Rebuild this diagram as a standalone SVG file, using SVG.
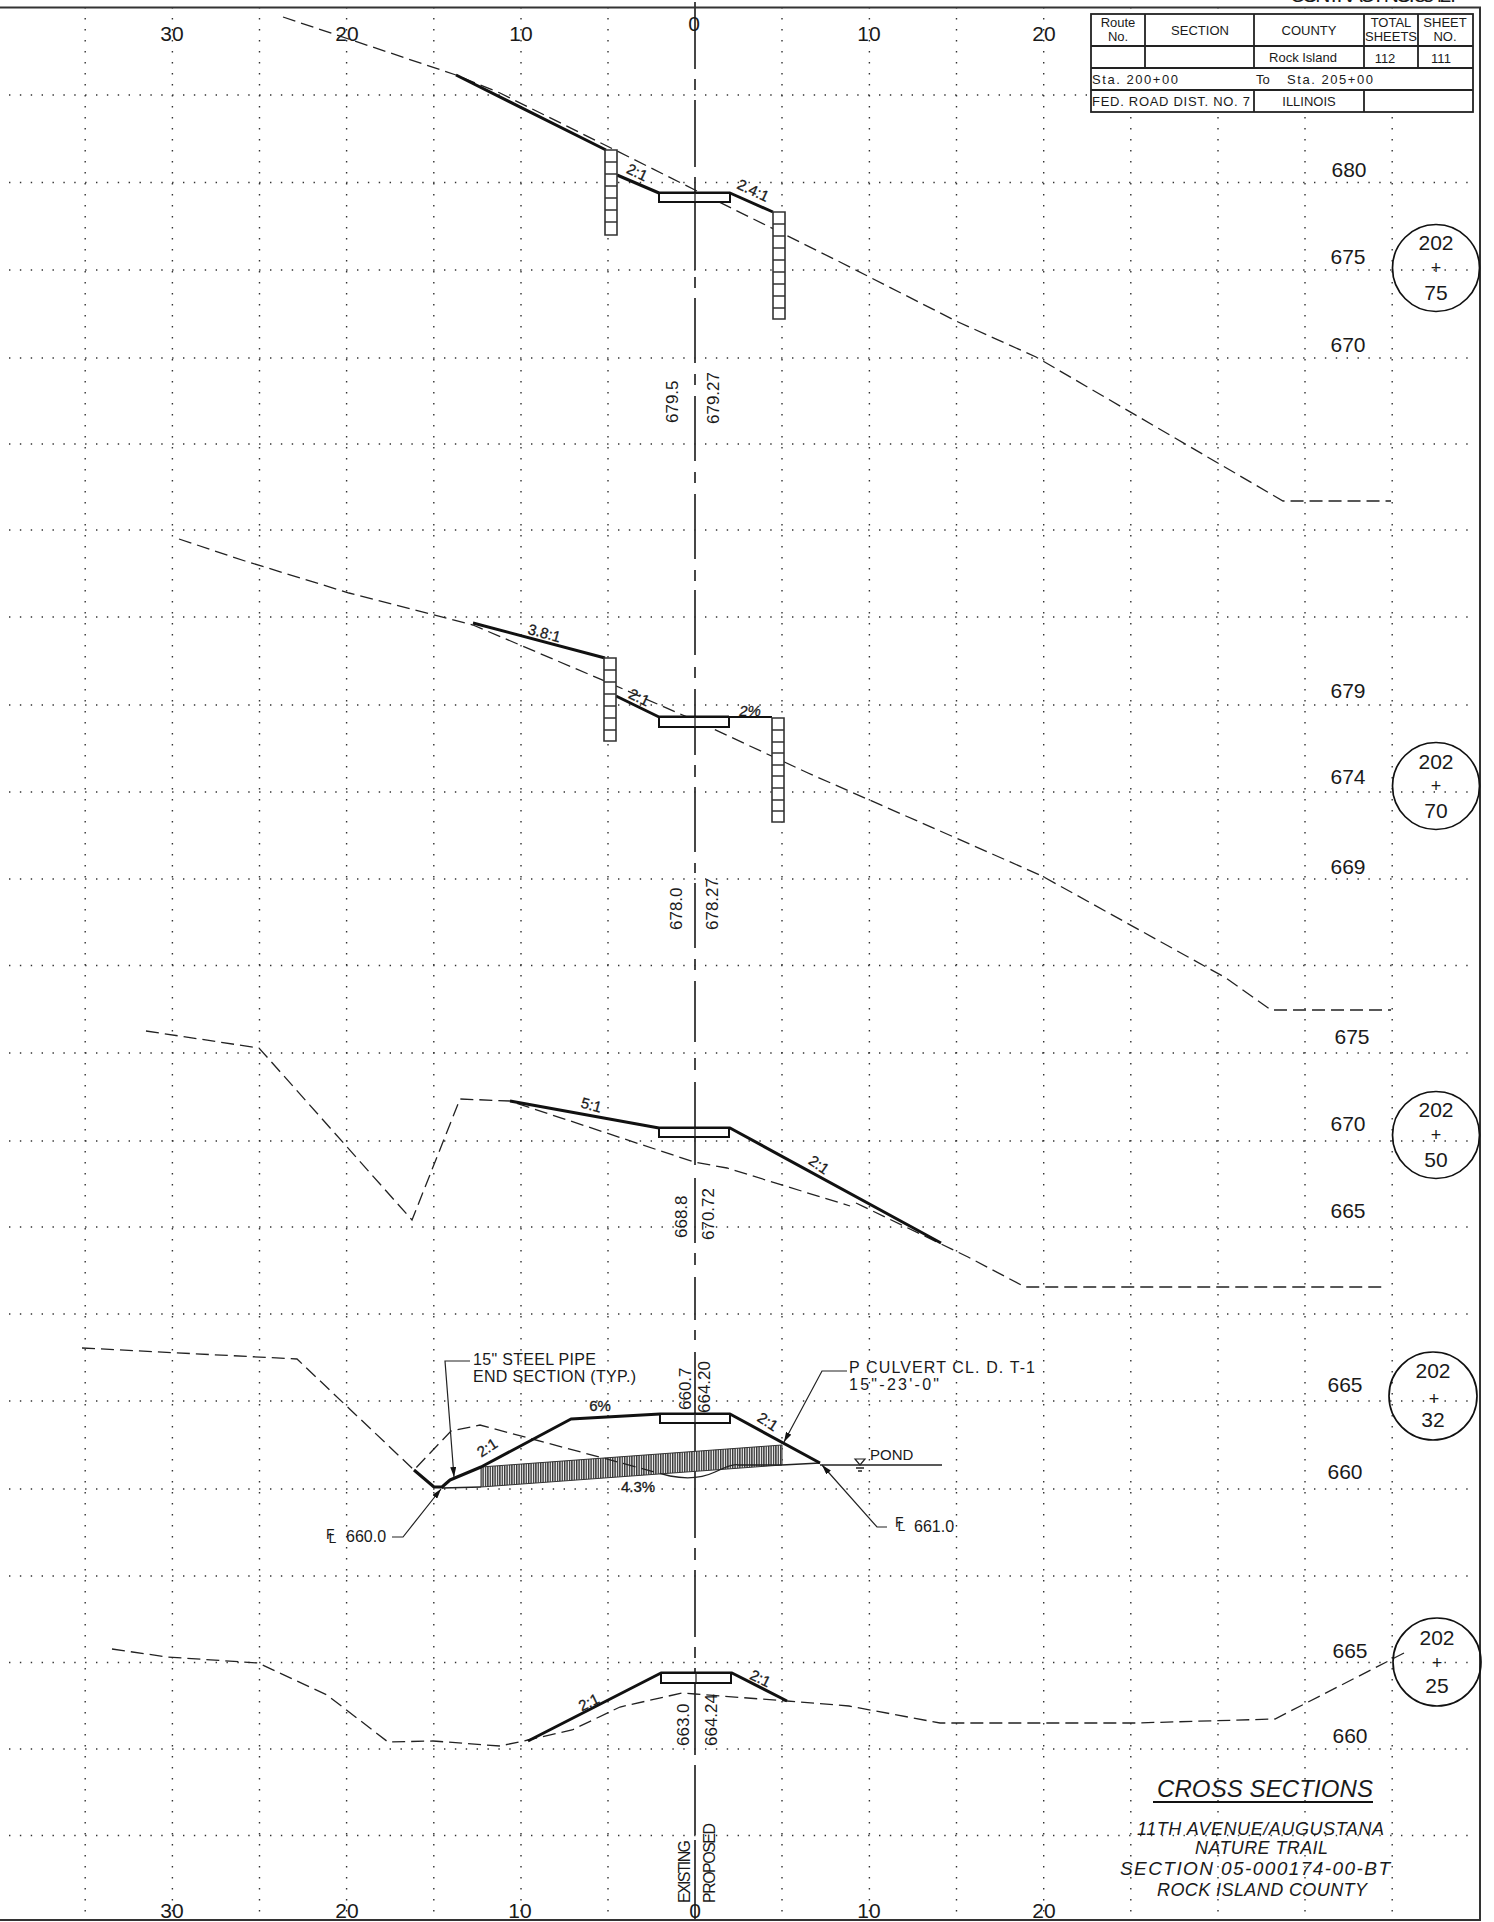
<svg xmlns="http://www.w3.org/2000/svg" width="1494" height="1922" viewBox="0 0 1494 1922">
<style>
text{font-family:"Liberation Sans",Arial,sans-serif;fill:#1a1a1a}
.gh,.gv,.ex,.th,.tn,.cl,.ld{fill:none}
.gh{stroke:#333;stroke-width:1.4;stroke-dasharray:1.4 9.475}
.gv{stroke:#333;stroke-width:1.4;stroke-dasharray:1.4 9.6}
.cl{stroke:#333;stroke-width:1.8}
.ex{stroke:#222;stroke-width:1.3;stroke-dasharray:13 6}
.th{stroke:#111;stroke-width:3;stroke-linejoin:round}
.tn{stroke:#222;stroke-width:1.3}
.ld{stroke:#222;stroke-width:1.2}
.road{fill:#fff;stroke:#111;stroke-width:2}
.wall{fill:#fff;stroke:#333;stroke-width:1.6}
.bub{fill:none;stroke:#111;stroke-width:1.7}
.frm{fill:none;stroke:#333;stroke-width:2}
.sc{font-size:21px;text-anchor:middle}
.el{font-size:21px;text-anchor:middle}
.pl{font-size:18px;text-anchor:middle}
.sl{font-size:15px;text-anchor:middle;stroke:#1a1a1a;stroke-width:.3}
.v{font-size:17px}
.t{font-size:13px;text-anchor:middle}
.tl{font-size:13px}
.lb{font-size:16px}
.fl{font-size:14px}
.ttl{font-style:italic}
.tb{fill:#fff;stroke:#222;stroke-width:1.8}
</style>
<defs>
<pattern id="hatch" width="2.4" height="8" patternUnits="userSpaceOnUse"><rect width="2.4" height="8" fill="#fff"/><rect width="1.4" height="8" fill="#333"/></pattern>
<marker id="arr" viewBox="0 0 10 6" refX="10" refY="3" markerWidth="10" markerHeight="6" markerUnits="userSpaceOnUse" orient="auto"><path d="M0 0L10 3L0 6z" fill="#111"/></marker>
</defs>
<rect width="1494" height="1922" fill="#fff"/>

<g id="grid">
<path class="gh" d="M9 95H1470M9 182.5H1470M9 270H1470M9 358H1470M9 444H1470M9 530H1470M9 617H1470M9 705H1470M9 792H1470M9 879H1470M9 965.5H1470M9 1053H1470M9 1141H1470M9 1227H1470M9 1314H1470M9 1401H1470M9 1489H1470M9 1576H1470M9 1662.5H1470M9 1749H1470M9 1835.5H1470"/>
<path class="gv" d="M85.2 7V1920M172.4 7V1920M259.5 7V1920M346.6 7V1920M433.8 7V1920M521 7V1920M608 7V1920M782 7V1920M869.4 7V1920M956.5 7V1920M1043.7 7V1920M1130.8 7V1920M1218 7V1920M1305 7V1920M1392.2 7V1920"/>
<path class="cl" d="M695 2V69M695 79V90M695 100V167M695 177V270M695 277V288M695 298V363M695 374V385M695 396V461M695 472V483M695 494V559M695 570V581M695 590V655M695 667V678M695 689V755M695 765V777M695 787V852M695 863V873M695 883V948M695 959V970M695 981V1042M695 1058V1070M695 1082V1165M695 1178V1243M695 1253V1265M695 1277V1320M695 1330V1340M695 1352V1538M695 1548V1560M695 1570V1637M695 1647V1658M695 1668V1755M695 1765V1835M695 1840V1920"/>
</g>

<g id="frame">
<path class="frm" d="M0 7.5H1480V1920H0"/>
<text x="1290" y="2" font-size="21" textLength="170" lengthAdjust="spacing">CONTRACT NO. 85427</text>
</g>

<g id="scale-top">
<text class="sc" x="172" y="41">30</text><text class="sc" x="347" y="41">20</text><text class="sc" x="521" y="41">10</text><text class="sc" x="694" y="31">0</text><text class="sc" x="869" y="41">10</text><text class="sc" x="1044" y="41">20</text>
</g>
<g id="scale-bottom">
<text class="sc" x="172" y="1918">30</text><text class="sc" x="347" y="1918">20</text><text class="sc" x="520" y="1918">10</text><text class="sc" x="695" y="1918">0</text><text class="sc" x="869" y="1918">10</text><text class="sc" x="1044" y="1918">20</text>
</g>

<g id="section-202-75">
<path class="ex" d="M283 17L456 75L500 93L617 151L695 190L840 262L956 321L1036 357L1283 501H1391"/>
<path class="th" d="M456 75L606 150M617 175L659 193H730L773 212"/>
<path class="road" d="M659 193H730V202H659z"/>
<path class="tn" d="M695 193V202"/>
<path class="wall" d="M605 150h12v85h-12zM605 162h12M605 174h12M605 186h12M605 198h12M605 210h12M605 222h12"/>
<path class="wall" d="M773 212h12v107h-12zM773 224h12M773 236h12M773 248h12M773 260h12M773 272h12M773 284h12M773 296h12M773 308h12"/>
<text class="sl" transform="translate(635 177) rotate(25)">2:1</text>
<text class="sl" transform="translate(751 195) rotate(25)">2.4:1</text>
<text class="v" transform="translate(678 423) rotate(-90)">679.5</text>
<text class="v" transform="translate(719 424) rotate(-90)">679.27</text>
<text class="el" x="1349" y="177">680</text><text class="el" x="1348" y="264">675</text><text class="el" x="1348" y="352">670</text>
<g id="bubble-75"><circle class="bub" cx="1436" cy="268" r="43.5"/><text class="el" x="1436" y="250">202</text><text class="pl" x="1436" y="274">+</text><text class="el" x="1436" y="300">75</text></g>
</g>

<g id="section-202-70">
<path class="ex" d="M179 539L245 561L349 593L473 625L607 682L694 720L808 773L956 838L1042 876L1226 978L1271 1010H1391"/>
<path class="th" d="M473 623L605 658M616 696L659 717H729"/>
<path class="road" d="M659 717H729V727H659z"/>
<path class="tn" d="M695 717V727"/>
<path d="M729 717H772" fill="none" stroke="#111" stroke-width="2.2"/>
<path class="wall" d="M604 658h12v83h-12zM604 670h12M604 682h12M604 694h12M604 706h12M604 718h12M604 730h12"/>
<path class="wall" d="M772 718h12v104h-12zM772 730h12M772 742h12M772 753h12M772 765h12M772 776h12M772 788h12M772 800h12M772 811h12"/>
<text class="sl" transform="translate(543 638) rotate(15)">3.8:1</text>
<text class="sl" transform="translate(637 702) rotate(25)">2:1</text>
<text class="sl" x="750" y="716" font-style="italic">2%</text>
<text class="v" transform="translate(682 930) rotate(-90)">678.0</text>
<text class="v" transform="translate(718 930) rotate(-90)">678.27</text>
<text class="el" x="1348" y="698">679</text><text class="el" x="1348" y="784">674</text><text class="el" x="1348" y="874">669</text>
<g id="bubble-70"><circle class="bub" cx="1436" cy="786" r="43.5"/><text class="el" x="1436" y="769">202</text><text class="pl" x="1436" y="792">+</text><text class="el" x="1436" y="818">70</text></g>
</g>

<g id="section-202-50">
<path class="ex" d="M146 1031L259 1048L412 1220L460 1099L510 1101L694 1162L727 1168L850 1206M856 1203L968 1257L1025 1287H1387"/>
<path class="th" d="M510 1101L659 1128H730L941 1243"/>
<path class="road" d="M659 1128H729V1137H659z"/>
<path class="tn" d="M695 1128V1137"/>
<text class="sl" transform="translate(590 1110) rotate(15)">5:1</text>
<text class="sl" transform="translate(816 1169) rotate(35)">2:1</text>
<text class="v" transform="translate(687 1238) rotate(-90)">668.8</text>
<text class="v" transform="translate(714 1240) rotate(-90)">670.72</text>
<text class="el" x="1352" y="1044">675</text><text class="el" x="1348" y="1131">670</text><text class="el" x="1348" y="1218">665</text>
<g id="bubble-50"><circle class="bub" cx="1436" cy="1135" r="43.5"/><text class="el" x="1436" y="1117">202</text><text class="pl" x="1436" y="1141">+</text><text class="el" x="1436" y="1167">50</text></g>
</g>

<g id="section-202-32">
<path d="M481 1467L782 1445V1465L481 1487z" fill="url(#hatch)" stroke="#333" stroke-width="1"/>
<path class="ex" d="M82 1348L297 1359L414 1470L451 1431L480 1425L603 1458L658 1473L670 1476"/>
<path class="tn" d="M670 1476Q696 1481 715 1472T738 1465H782"/>
<path class="tn" d="M442 1488L481 1487M782 1465L820 1463"/>
<path class="th" d="M414 1470L434 1487H442L450 1480L481 1467L571 1419L660 1414H730L820 1463"/>
<path class="road" d="M660 1414H730V1423H660z"/>
<path class="tn" d="M695 1414V1423"/>
<path class="tn" d="M820 1465H942"/>
<path d="M855 1459H865L860 1465z" fill="none" stroke="#222" stroke-width="1.2"/><path class="tn" d="M856 1468H864M858 1471H862"/>
<text x="870" y="1460" style="font-size:15px">POND</text>
<path class="ld" d="M470 1361H445L454 1477" marker-end="url(#arr)"/>
<path class="ld" d="M847 1371H822L784 1442" marker-end="url(#arr)"/>
<path class="ld" d="M392 1537H403L441 1489" marker-end="url(#arr)"/>
<path class="ld" d="M887 1527H877L822 1465" marker-end="url(#arr)"/>
<text class="lb" x="473" y="1365" textLength="123" lengthAdjust="spacing">15" STEEL PIPE</text>
<text class="lb" x="473" y="1382" textLength="163" lengthAdjust="spacing">END SECTION (TYP.)</text>
<text class="lb" x="849" y="1373" textLength="186" lengthAdjust="spacing">P CULVERT CL. D. T-1</text>
<text class="lb" x="849" y="1390" textLength="90" lengthAdjust="spacing">15"-23'-0"</text>
<text class="fl" x="326" y="1539">F<tspan dx="-6" dy="4">L</tspan></text>
<text class="lb" x="346" y="1542">660.0</text>
<text class="fl" x="895" y="1527">F<tspan dx="-6" dy="4">L</tspan></text>
<text class="lb" x="914" y="1532">661.0</text>
<text class="sl" x="600" y="1411">6%</text>
<text class="sl" x="638" y="1492">4.3%</text>
<text class="sl" transform="translate(490 1452) rotate(-33)">2:1</text>
<text class="sl" transform="translate(765 1426) rotate(33)">2:1</text>
<text class="v" transform="translate(691 1410) rotate(-90)">660.7</text>
<text class="v" transform="translate(710 1413) rotate(-90)">664.20</text>
<text class="el" x="1345" y="1392">665</text><text class="el" x="1345" y="1479">660</text>
<g id="bubble-32"><circle class="bub" cx="1433" cy="1396" r="44"/><text class="el" x="1433" y="1378">202</text><text class="pl" x="1434" y="1405">+</text><text class="el" x="1433" y="1427">32</text></g>
</g>

<g id="section-202-25">
<path class="ex" d="M112 1649L167 1657L258 1663L327 1695L388 1742L433 1741L500 1746L528 1740L572 1730L620 1707L682 1693L695 1694L787 1701L849 1706L940 1723H1136L1275 1719L1404 1653"/>
<path class="th" d="M528 1741L661 1673H732L787 1701"/>
<path class="road" d="M661 1673H731V1683H661z"/>
<path class="tn" d="M696 1673V1683"/>
<text class="sl" transform="translate(591 1707) rotate(-26)">2:1</text>
<text class="sl" transform="translate(758 1683) rotate(26)">2:1</text>
<text class="v" transform="translate(689 1746) rotate(-90)">663.0</text>
<text class="v" transform="translate(717 1746) rotate(-90)">664.24</text>
<text class="lb" transform="translate(690 1903) rotate(-90)" textLength="63" lengthAdjust="spacing">EXISTING</text>
<text class="lb" transform="translate(715 1903) rotate(-90)" textLength="80" lengthAdjust="spacing">PROPOSED</text>
<text class="el" x="1350" y="1658">665</text><text class="el" x="1350" y="1743">660</text>
<g id="bubble-25"><circle class="bub" cx="1437" cy="1662" r="44"/><text class="el" x="1437" y="1645">202</text><text class="pl" x="1437" y="1669">+</text><text class="el" x="1437" y="1693">25</text></g>
</g>

<g id="title-block">
<text class="ttl" x="1157" y="1797" font-size="24" textLength="216" lengthAdjust="spacing">CROSS SECTIONS</text>
<path d="M1153 1802H1373" fill="none" stroke="#111" stroke-width="2"/>
<text class="ttl" x="1137" y="1835" font-size="18" textLength="247" lengthAdjust="spacing">11TH AVENUE/AUGUSTANA</text>
<text class="ttl" x="1195" y="1854" font-size="18" textLength="133" lengthAdjust="spacing">NATURE TRAIL</text>
<text class="ttl" x="1120" y="1875" font-size="19" textLength="270" lengthAdjust="spacing">SECTION 05-000174-00-BT</text>
<text class="ttl" x="1157" y="1896" font-size="18" textLength="210" lengthAdjust="spacing">ROCK ISLAND COUNTY</text>
</g>

<g id="sheet-table">
<rect class="tb" x="1091" y="14" width="382" height="98"/>
<path class="tb" style="fill:none" d="M1091 46H1473M1091 68H1473M1091 90H1473M1145 14V68M1254 14V68M1364 14V68M1418 14V68M1254 90V112M1364 90V112"/>
<text class="t" x="1118" y="27">Route</text><text class="t" x="1118" y="41">No.</text>
<text class="t" x="1200" y="35">SECTION</text>
<text class="t" x="1309" y="35">COUNTY</text>
<text class="t" x="1391" y="27">TOTAL</text><text class="t" x="1391" y="41">SHEETS</text>
<text class="t" x="1445" y="27">SHEET</text><text class="t" x="1445" y="41">NO.</text>
<text class="t" x="1303" y="62">Rock Island</text>
<text class="t" x="1385" y="63">112</text><text class="t" x="1441" y="63">111</text>
<text class="tl" x="1092" y="84" textLength="86" lengthAdjust="spacing">Sta. 200+00</text>
<text class="tl" x="1256" y="84">To</text>
<text class="tl" x="1287" y="84" textLength="86" lengthAdjust="spacing">Sta. 205+00</text>
<text class="tl" x="1092" y="106" textLength="158" lengthAdjust="spacing">FED. ROAD DIST. NO. 7</text>
<text class="t" x="1309" y="106">ILLINOIS</text>
</g>
</svg>
